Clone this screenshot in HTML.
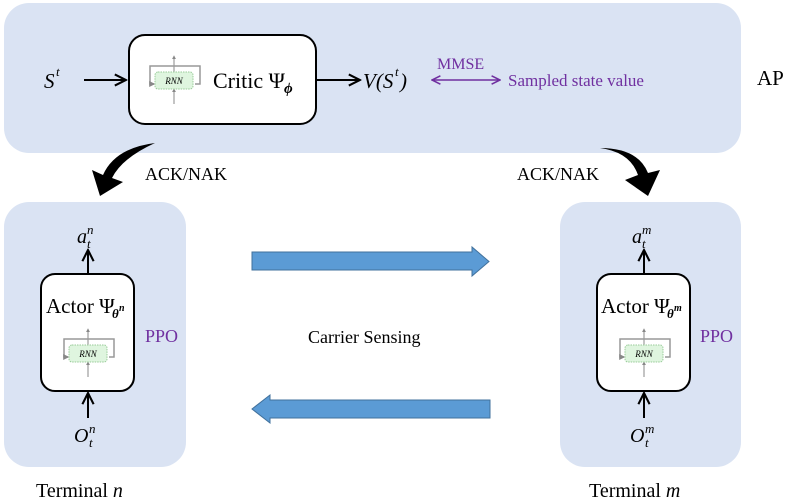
<!DOCTYPE html>
<html><head><style>
body{margin:0;background:#fff;}
svg{display:block;}
text{font-family:"Liberation Serif",serif;}
</style></head><body>
<svg width="789" height="501" viewBox="0 0 789 501" xmlns="http://www.w3.org/2000/svg">
<defs>
<marker id="ah" viewBox="0 0 10 10" refX="9" refY="5" markerWidth="7" markerHeight="7" orient="auto"><path d="M1,1 L9,5 L1,9" fill="none" stroke="#000" stroke-width="1.5"/></marker>
<marker id="ap" viewBox="0 0 10 10" refX="9" refY="5" markerWidth="7" markerHeight="7" orient="auto-start-reverse"><path d="M1,1 L9,5 L1,9" fill="none" stroke="#7030a0" stroke-width="1.5"/></marker>
<marker id="ag" viewBox="0 0 10 10" refX="8" refY="5" markerWidth="4" markerHeight="4" orient="auto"><path d="M0,0 L10,5 L0,10z" fill="#888"/></marker>
<g id="rnn">
<line x1="0" y1="-8" x2="0" y2="-24" stroke="#888" stroke-width="1" marker-end="url(#ag)"/>
<line x1="0" y1="24" x2="0" y2="9" stroke="#888" stroke-width="1" marker-end="url(#ag)"/>
<path d="M0,-14 H-24 V4 H-20" fill="none" stroke="#999" stroke-width="1.5" marker-end="url(#ag)"/>
<path d="M0,-14 H26 V4 H21" fill="none" stroke="#999" stroke-width="1.5"/>
<rect x="-19" y="-8" width="38" height="17" rx="3" fill="#dff5df" stroke="#9c9" stroke-dasharray="1.5,1"/>
<text x="0" y="4" font-size="9" font-style="italic" text-anchor="middle">RNN</text>
</g>
</defs>
<rect x="4" y="3" width="737" height="150" rx="25" fill="#dae3f3"/>
<rect x="4" y="202" width="182" height="265" rx="25" fill="#dae3f3"/>
<rect x="560" y="202" width="181" height="265" rx="25" fill="#dae3f3"/>

<!-- top -->
<text x="44" y="88" font-size="21" font-style="italic">S</text>
<text x="56" y="76" font-size="13" font-style="italic">t</text>
<line x1="84" y1="80" x2="126" y2="80" stroke="#000" stroke-width="2" marker-end="url(#ah)"/>
<rect x="129" y="35" width="187" height="89" rx="16" fill="#fff" stroke="#000" stroke-width="2"/>
<use href="#rnn" x="174" y="80"/>
<text x="213" y="88" font-size="22">Critic Ψ</text>
<text x="284" y="93" font-size="15" font-style="italic" font-weight="bold">ϕ</text>
<line x1="316" y1="80" x2="360" y2="80" stroke="#000" stroke-width="2" marker-end="url(#ah)"/>
<text x="363" y="88" font-size="21" font-style="italic">V(S</text>
<text x="395" y="76" font-size="13" font-style="italic">t</text>
<text x="400" y="88" font-size="21" font-style="italic">)</text>
<text x="437" y="69" font-size="16" fill="#7030a0">MMSE</text>
<line x1="432" y1="80" x2="500" y2="80" stroke="#7030a0" stroke-width="1.5" marker-end="url(#ap)" marker-start="url(#ap)"/>
<text x="508" y="86" font-size="17" fill="#7030a0">Sampled state value</text>
<text x="757" y="85" font-size="21">AP</text>

<!-- curved arrows -->
<path d="M155,143 Q115,148 103,175 L92,170 L100,196 L123,182 L112,178 Q122,158 155,143 Z" fill="#000"/>
<path d="M600,148 Q630,152 638,175 L625,180 L648,196 L660,170 L648,173 Q638,148 600,148 Z" fill="#000"/>
<text x="145" y="180" font-size="18">ACK/NAK</text>
<text x="517" y="180" font-size="18">ACK/NAK</text>

<!-- left terminal -->
<text x="77" y="243" font-size="20" font-style="italic">a</text>
<text x="87" y="234" font-size="13" font-style="italic">n</text>
<text x="87" y="248" font-size="13" font-style="italic">t</text>
<line x1="88" y1="273" x2="88" y2="250" stroke="#000" stroke-width="2" marker-end="url(#ah)"/>
<rect x="41" y="274" width="93" height="117" rx="14" fill="#fff" stroke="#000" stroke-width="2"/>
<text x="46" y="313" font-size="21">Actor Ψ</text>
<text x="112" y="318" font-size="13" font-style="italic" font-weight="bold">θ</text>
<text x="119" y="311" font-size="10" font-style="italic" font-weight="bold">n</text>
<use href="#rnn" x="88" y="353"/>
<line x1="88" y1="418" x2="88" y2="393" stroke="#000" stroke-width="2" marker-end="url(#ah)"/>
<text x="74" y="442" font-size="20" font-style="italic">O</text>
<text x="89" y="433" font-size="13" font-style="italic">n</text>
<text x="89" y="447" font-size="13" font-style="italic">t</text>
<text x="145" y="342" font-size="18" fill="#7030a0">PPO</text>
<text x="36" y="497" font-size="20">Terminal <tspan font-style="italic">n</tspan></text>

<!-- right terminal -->
<text x="632" y="243" font-size="20" font-style="italic">a</text>
<text x="642" y="234" font-size="13" font-style="italic">m</text>
<text x="642" y="248" font-size="13" font-style="italic">t</text>
<line x1="644" y1="273" x2="644" y2="250" stroke="#000" stroke-width="2" marker-end="url(#ah)"/>
<rect x="597" y="274" width="93" height="117" rx="14" fill="#fff" stroke="#000" stroke-width="2"/>
<text x="601" y="313" font-size="21">Actor Ψ</text>
<text x="667" y="318" font-size="13" font-style="italic" font-weight="bold">θ</text>
<text x="674" y="311" font-size="10" font-style="italic" font-weight="bold">m</text>
<use href="#rnn" x="644" y="353"/>
<line x1="644" y1="418" x2="644" y2="393" stroke="#000" stroke-width="2" marker-end="url(#ah)"/>
<text x="630" y="442" font-size="20" font-style="italic">O</text>
<text x="645" y="433" font-size="13" font-style="italic">m</text>
<text x="645" y="447" font-size="13" font-style="italic">t</text>
<text x="700" y="342" font-size="18" fill="#7030a0">PPO</text>
<text x="589" y="497" font-size="20">Terminal <tspan font-style="italic">m</tspan></text>

<!-- blue arrows -->
<path d="M252,252 H472 V247 L489,261.5 L472,276 V270 H252 Z" fill="#5b9bd5" stroke="#41719c" stroke-width="1"/>
<path d="M490,400 H270 V395 L252,409 L270,423 V418 H490 Z" fill="#5b9bd5" stroke="#41719c" stroke-width="1"/>
<text x="308" y="343" font-size="18">Carrier Sensing</text>
</svg>
</body></html>
